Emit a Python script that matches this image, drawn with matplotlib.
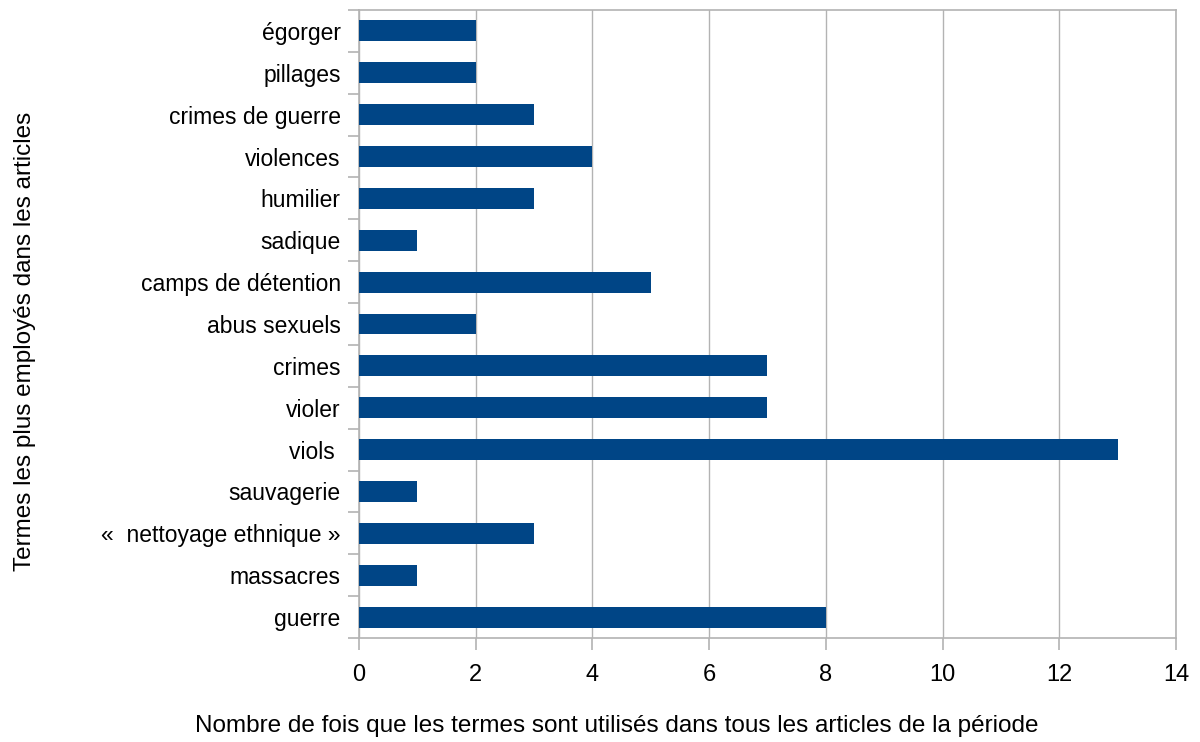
import matplotlib
matplotlib.use('Agg')
import matplotlib.pyplot as plt
import numpy as np

plt.rcParams['font.family'] = ['Liberation Sans', 'DejaVu Sans']

# bottom to top, as drawn
termes = ['guerre', 'massacres', '«  nettoyage ethnique »', 'sauvagerie', 'viols ',
          'violer', 'crimes', 'abus sexuels', 'camps de détention', 'sadique',
          'humilier', 'violences', 'crimes de guerre', 'pillages', 'égorger']
occurrences = [8, 1, 3, 1, 13, 7, 7, 2, 5, 1, 3, 4, 3, 2, 2]
xticks = [0, 2, 4, 6, 8, 10, 12, 14]

bar_color = '#004586'
grey = '#b3b3b3'

fig = plt.figure(figsize=(12, 7.42), dpi=100)
ax = fig.add_axes([0.299, 0.1402, 0.681, 0.8463])

y = np.arange(len(termes))
ax.barh(y, occurrences, height=0.5, color=bar_color, zorder=3)

ax.set_xlim(0, 14)
ax.set_ylim(-0.5, len(termes) - 0.5)
ax.set_xticks(xticks)
ax.set_xticklabels([str(t) for t in xticks], fontsize=17)
ax.set_yticks(y)
ax.set_yticklabels(termes, fontsize=16.5)
ax.set_yticks(np.arange(-0.5, len(termes)), minor=True)

ax.grid(axis='x', color=grey, linewidth=1, zorder=0)
for s in ax.spines.values():
    s.set_color(grey)
    s.set_linewidth(1.2)

ax.tick_params(axis='y', which='major', length=0, pad=13)
ax.tick_params(axis='y', which='minor', length=8, color=grey, width=1.2)
ax.tick_params(axis='x', which='major', length=8.5, color=grey, width=1.2, pad=10)

ax.set_xlabel('Nombre de fois que les termes sont utilisés dans tous les articles de la période',
              fontsize=17.5, va='center')
ax.xaxis.set_label_coords(0.316, -0.14)
ax.set_ylabel('Termes les plus employés dans les articles', fontsize=17.5, va='center')
ax.yaxis.set_label_coords(-0.409, 0.472)

fig.savefig('out.png', dpi=100)
